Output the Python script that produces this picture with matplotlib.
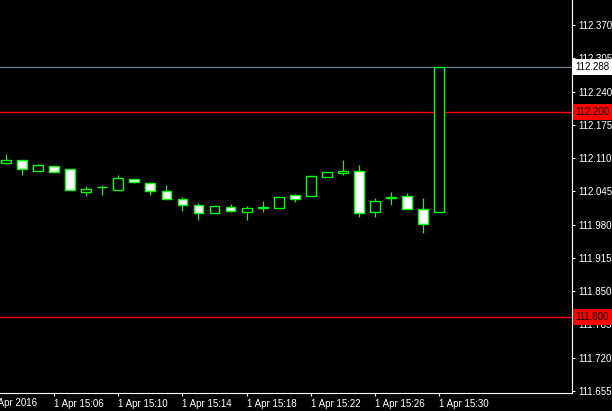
import matplotlib.pyplot as plt
from matplotlib.transforms import blended_transform_factory

# 1-minute bars, 1 Apr 2016, 15:03 .. 15:30
minutes = list(range(3, 31))
opens = [112.101, 112.106, 112.085, 112.094, 112.089, 112.044, 112.053, 112.048,
         112.070, 112.061, 112.046, 112.030, 112.018, 112.002, 112.014, 112.005,
         112.013, 112.013, 112.038, 112.035, 112.074, 112.080, 112.084, 112.005,
         112.032, 112.035, 112.010, 112.004]
highs = [112.118, 112.106, 112.098, 112.094, 112.089, 112.056, 112.057, 112.077,
         112.070, 112.061, 112.058, 112.034, 112.022, 112.018, 112.020, 112.016,
         112.027, 112.034, 112.040, 112.075, 112.083, 112.106, 112.097, 112.032,
         112.044, 112.041, 112.032, 112.288]
lows = [112.099, 112.076, 112.085, 112.082, 112.048, 112.036, 112.038, 112.048,
        112.061, 112.037, 112.031, 112.007, 111.989, 112.002, 112.005, 111.989,
        112.005, 112.013, 112.024, 112.035, 112.074, 112.076, 111.994, 111.994,
        112.018, 112.010, 111.964, 112.004]
closes = [112.106, 112.088, 112.096, 112.082, 112.048, 112.050, 112.053, 112.071,
          112.064, 112.046, 112.031, 112.019, 112.003, 112.016, 112.007, 112.013,
          112.014, 112.034, 112.031, 112.075, 112.083, 112.085, 112.002, 112.026,
          112.033, 112.010, 111.981, 112.288]

bid = 112.288
levels = [112.200, 111.800]

yticks = [111.655, 111.720, 111.785, 111.850, 111.915, 111.980, 112.045,
          112.110, 112.175, 112.240, 112.305, 112.370]
xtick_min = [6, 10, 14, 18, 22, 26, 30]
xtick_lab = ['1 Apr 15:06', '1 Apr 15:10', '1 Apr 15:14', '1 Apr 15:18',
             '1 Apr 15:22', '1 Apr 15:26', '1 Apr 15:30']

green = '#00ff00'
plt.rcParams['font.family'] = 'Liberation Sans'
fs = 7

fig = plt.figure(figsize=(6.12, 4.11), dpi=100, facecolor='black')
ax = fig.add_axes([0, 18/411, 571.5/612, 393/411])
ax.set_facecolor('black')

# wicks
ax.vlines(minutes, lows, highs, color=green, linewidth=0.8, zorder=2)
# bodies: bull black, bear white
for m, o, c in zip(minutes, opens, closes):
    fill = 'black' if c >= o else 'white'
    ax.bar(m, abs(c - o), width=0.62, bottom=min(o, c), color=fill,
           edgecolor=green, linewidth=1.0, zorder=3)

ax.axhline(bid, color='#778899', linewidth=0.8, zorder=1)
for lv in levels:
    ax.axhline(lv, color='#ff0000', linewidth=1.0, zorder=1)

ax.set_xlim(2.606, 38.29)
ax.set_ylim(111.6511, 112.4188)

for s in ['left', 'top']:
    ax.spines[s].set_visible(False)
for s in ['right', 'bottom']:
    ax.spines[s].set_color('white')
    ax.spines[s].set_linewidth(0.8)

ax.yaxis.tick_right()
ax.set_yticks(yticks)
ax.set_yticklabels(['%.3f' % v for v in yticks])
ax.tick_params(axis='y', colors='white', labelsize=fs, length=2.5, width=0.8, pad=2.5)
ax.set_xticks(xtick_min)
ax.set_xticklabels(xtick_lab)
ax.tick_params(axis='x', colors='white', labelsize=fs, length=2.5, width=0.8, pad=2)
for lab in ax.get_xticklabels():
    lab.set_ha('left')

# first date label is cut at the left edge
tr = blended_transform_factory(ax.transData, ax.transAxes)
ax.text(1.98, -0.0125, '1 Apr 2016', transform=tr, color='white', fontsize=fs,
        ha='left', va='top', clip_on=False)

# price boxes on the axis
ty = blended_transform_factory(ax.transAxes, ax.transData)
ax.text(1.007, bid, '%.3f' % bid, transform=ty, color='black', fontsize=fs,
        ha='left', va='center', clip_on=False, zorder=5,
        bbox=dict(facecolor='white', edgecolor='none', pad=2.0))
for lv in levels:
    ax.text(1.007, lv, '%.3f' % lv, transform=ty, color='black', fontsize=fs,
            ha='left', va='center', clip_on=False, zorder=5,
            bbox=dict(facecolor='#ff0000', edgecolor='none', pad=2.0))

fig.savefig('out.png', dpi=100, facecolor='black')
